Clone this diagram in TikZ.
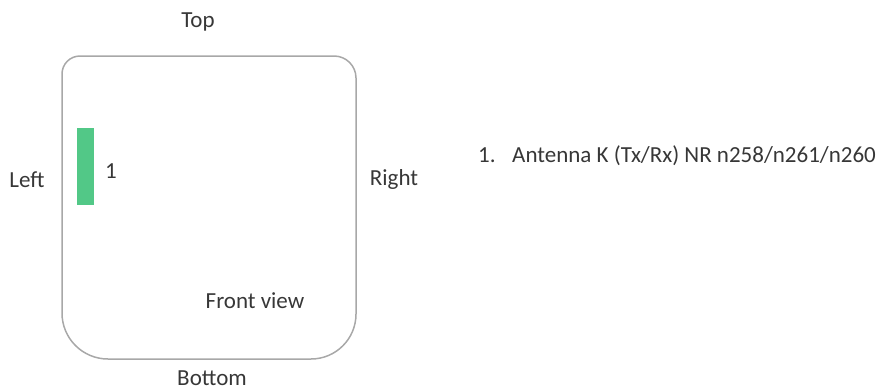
\documentclass[tikz,border=0pt]{standalone}
\usepackage{fontspec}
\setmainfont{Carlito}
\definecolor{frame}{RGB}{168,168,168}
\definecolor{antgreen}{RGB}{82,200,135}
\definecolor{txt}{RGB}{55,55,55}
\begin{document}
\begin{tikzpicture}[x=1pt,y=-1pt,
  lbl/.style={font=\fontsize{23}{27}\selectfont, text=txt, inner sep=0pt, anchor=base},
  body/.style={draw=frame, line width=1.5pt}]
\useasboundingbox (0,0) rectangle (886,391);
% device outline: small top corners, large bottom corners
\draw[body] (62,74) arc[start angle=180, end angle=270, radius=18]
  -- (334,56) arc[start angle=270, end angle=360, radius=22]
  -- (356,314) arc[start angle=0, end angle=90, radius=45]
  -- (108,359) arc[start angle=90, end angle=180, radius=46] -- cycle;
% antenna module
\node[fill=antgreen, minimum width=17pt, minimum height=77pt, inner sep=0pt] (ant) at (85.5,166.5) {};
\node[lbl, anchor=base west] (n1) at (105,178) {1};
% side labels
\node[lbl] (top) at (198,27) {Top};
\node[lbl] (bottom) at (212,385) {Bottom};
\node[lbl] (left) at (27,187) {Left};
\node[lbl] (right) at (394,185) {Right};
\node[lbl] (fv) at (255,308) {Front view};
% legend
\node[lbl, anchor=base west] (k1) at (478,162) {1.};
\node[lbl, anchor=base west] (k1t) at (512,162) {Antenna K (Tx/Rx) NR n258/n261/n260};
\end{tikzpicture}
\end{document}
